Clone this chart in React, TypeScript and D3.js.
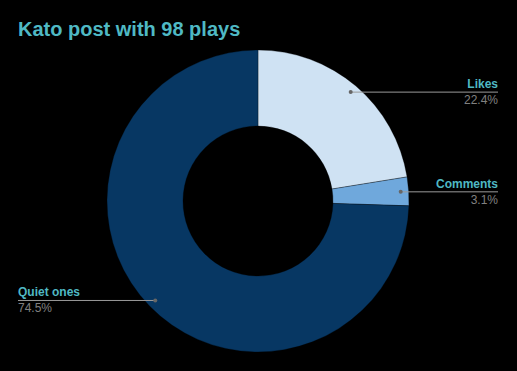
import React from "react";
import * as d3 from "d3";

const categories = ["Likes", "Comments", "Quiet ones"];
const values = [22, 3, 73];
const colors = ["#cfe2f3", "#6fa8dc", "#073763"];
const title = "Kato post with 98 plays";

const W = 517, H = 371;
const cx = 258, cy = 201, outerR = 151, innerR = 75;

export default function App() {
  const total = d3.sum(values);
  const pie = d3.pie<number>().sort(null).value((d) => d)(values);
  const arc = d3.arc<d3.PieArcDatum<number>>().innerRadius(innerR).outerRadius(outerR);
  const pct = (v: number) => d3.format(".1f")((v / total) * 100) + "%";

  return (
    <svg width={W} height={H} style={{ position: "absolute", left: 0, top: 0, background: "#000" }}
      fontFamily="'Liberation Sans', Arial, sans-serif">
      <rect width={W} height={H} fill="#000" />
      <text x={18} y={36} fontSize={20} fontWeight="bold" fill="#4fb9c4">{title}</text>
      <g transform={`translate(${cx},${cy})`}>
        {pie.map((p, i) => (
          <path key={i} d={arc(p) || ""} fill={colors[i]} stroke="#000" strokeWidth={0.3} />
        ))}
      </g>
      {pie.map((p, i) => {
        const mid = (p.startAngle + p.endAngle) / 2;
        const r = 143;
        const px = cx + r * Math.sin(mid);
        const py = cy - r * Math.cos(mid);
        const right = Math.sin(mid) >= 0;
        const x2 = right ? 498 : 18;
        return (
          <g key={"l" + i}>
            <line x1={px} y1={py} x2={x2} y2={py} stroke="#9a9a9a" strokeWidth={1} />
            <circle cx={px} cy={py} r={2} fill="#666" />
            <text x={x2} y={py - 4} textAnchor={right ? "end" : "start"} fontSize={12} fontWeight="bold" fill="#4fb9c4">
              {categories[i]}
            </text>
            <text x={x2} y={py + 12} textAnchor={right ? "end" : "start"} fontSize={12} fill="#808080">
              {pct(values[i])}
            </text>
          </g>
        );
      })}
    </svg>
  );
}
